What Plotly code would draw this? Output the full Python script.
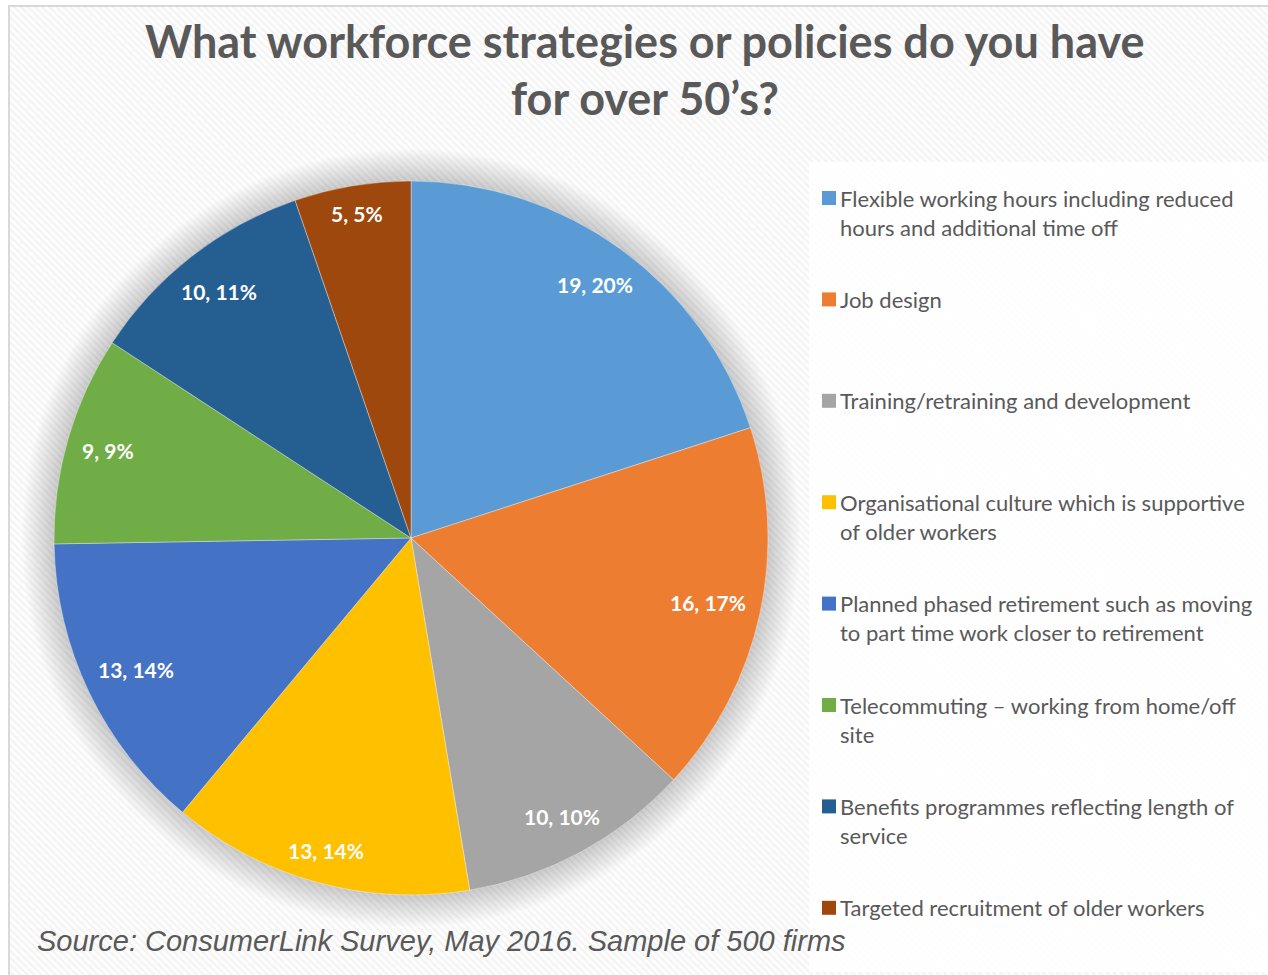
import numpy as np
import plotly.graph_objects as go

# Survey results: number of firms per policy and the rounded share shown on each slice
categories = [
    "Flexible working hours including reduced<br>hours and additional time off",
    "Job design",
    "Training/retraining and development",
    "Organisational culture which is supportive<br>of older workers",
    "Planned phased retirement such as moving<br>to part time work closer to retirement",
    "Telecommuting – working from home/off<br>site",
    "Benefits programmes reflecting length of<br>service",
    "Targeted recruitment of older workers",
]
counts = [19, 16, 10, 13, 13, 9, 10, 5]
shares = [20, 17, 10, 14, 14, 9, 11, 5]
colors = ["#5B9BD5", "#ED7D31", "#A5A5A5", "#FFC000",
          "#4472C4", "#70AD47", "#255E91", "#9E480E"]

title_lines = ["What workforce strategies or policies do you have", "for over 50’s?"]
source_note = "Source: ConsumerLink Survey, May 2016. Sample of 500 firms"

W, H = 1268, 975
CX, CY, R = 411, 538, 357          # pie centre and radius in pixels
TEXT = "#595959"
FONT = "Lato, 'Open Sans', sans-serif"
LABEL_SIZE = 21

fig = go.Figure()

# hatched chart-area background
fig.add_trace(go.Scatter(
    x=[9, W + 5, W + 5, 9, 9], y=[6, 6, H + 5, H + 5, 6],
    mode="lines", line=dict(width=0), fill="toself",
    fillcolor="#fbfbfb",
    fillpattern=dict(shape="\\", size=5, solidity=0.35,
                     fgcolor="#e7e7e7", bgcolor="#fdfdfd"),
    hoverinfo="skip", showlegend=False,
))

# plain panel behind the legend
fig.add_trace(go.Scatter(
    x=[809, W + 5, W + 5, 809, 809], y=[162, 162, 972, 972, 162],
    mode="lines", line=dict(width=0), fill="toself",
    fillcolor="rgba(255,255,255,0.85)",
    hoverinfo="skip", showlegend=False,
))

# soft glow around the pie
t = np.linspace(0, 2 * np.pi, 240)
for k in range(16):
    rr = R + 2 + k * 2
    fig.add_trace(go.Scatter(
        x=CX + rr * np.cos(t), y=CY + rr * np.sin(t),
        mode="lines", line=dict(width=0), fill="toself",
        fillcolor="rgba(0,0,0,0.012)",
        hoverinfo="skip", showlegend=False,
    ))

plain_names = [c.replace("<br>", " ") for c in categories]
fig.add_trace(go.Pie(
    labels=plain_names, values=counts, sort=False,
    direction="clockwise", rotation=0,
    marker=dict(colors=colors, line=dict(width=0.6, color="rgba(255,255,255,0.6)")),
    textinfo="none", showlegend=False,
    domain=dict(x=[(CX - R) / W, (CX + R) / W],
                y=[1 - (CY + R) / H, 1 - (CY - R) / H]),
    hovertemplate="%{label}<br>%{value}<extra></extra>",
))

# slice labels "count, share%" pushed towards the rim at each slice's mid-angle,
# keeping the whole text box a small gap inside the edge
total = sum(counts)
cum = 0
annotations = []
for v, s in zip(counts, shares):
    theta = 2 * np.pi * (cum + v / 2) / total
    cum += v
    txt = f"{v}, {s}%"
    half_w = len(txt) * LABEL_SIZE * 0.53 / 2
    half_h = LABEL_SIZE * 0.55
    extent = abs(half_w * np.sin(theta)) + abs(half_h * np.cos(theta))
    rad = R - 12 - extent
    annotations.append(dict(
        x=CX + rad * np.sin(theta), y=CY - rad * np.cos(theta),
        xref="x", yref="y", text=f"<b>{txt}</b>", showarrow=False,
        font=dict(family=FONT, size=LABEL_SIZE, color="white"),
        xanchor="center", yanchor="middle",
    ))

# title
for j, line in enumerate(title_lines):
    annotations.append(dict(
        x=645, y=41 + j * 57, xref="x", yref="y", text=f"<b>{line}</b>",
        showarrow=False, font=dict(family=FONT, size=45, color=TEXT),
        xanchor="center", yanchor="middle",
    ))

# legend
shapes = []
for i, (name, col) in enumerate(zip(categories, colors)):
    y0 = 198 + i * 101.4
    shapes.append(dict(type="rect", xref="x", yref="y",
                       x0=822, x1=836, y0=y0 - 7, y1=y0 + 7,
                       fillcolor=col, line=dict(width=0)))
    for j, line in enumerate(name.split("<br>")):
        annotations.append(dict(
            x=838, y=y0 + j * 29, xref="x", yref="y", text=line,
            showarrow=False, font=dict(family=FONT, size=22, color=TEXT),
            xanchor="left", yanchor="middle",
        ))

# source note
annotations.append(dict(
    x=35, y=941, xref="x", yref="y", text=f"<i>{source_note}</i>",
    showarrow=False,
    font=dict(family="'Liberation Sans', Arial, sans-serif", size=29, color=TEXT),
    xanchor="left", yanchor="middle",
))

# chart border
shapes.append(dict(type="rect", xref="x", yref="y", x0=9, y0=6, x1=W + 20, y1=H + 20,
                   line=dict(color="#d9d9d9", width=2), fillcolor="rgba(0,0,0,0)"))

fig.update_layout(
    width=W, height=H, margin=dict(l=0, r=0, t=0, b=0),
    paper_bgcolor="white", plot_bgcolor="rgba(0,0,0,0)",
    xaxis=dict(range=[0, W], visible=False, fixedrange=True, domain=[0, 1]),
    yaxis=dict(range=[H, 0], visible=False, fixedrange=True, domain=[0, 1]),
    annotations=annotations, shapes=shapes, showlegend=False,
)

fig.write_html("out.html")
